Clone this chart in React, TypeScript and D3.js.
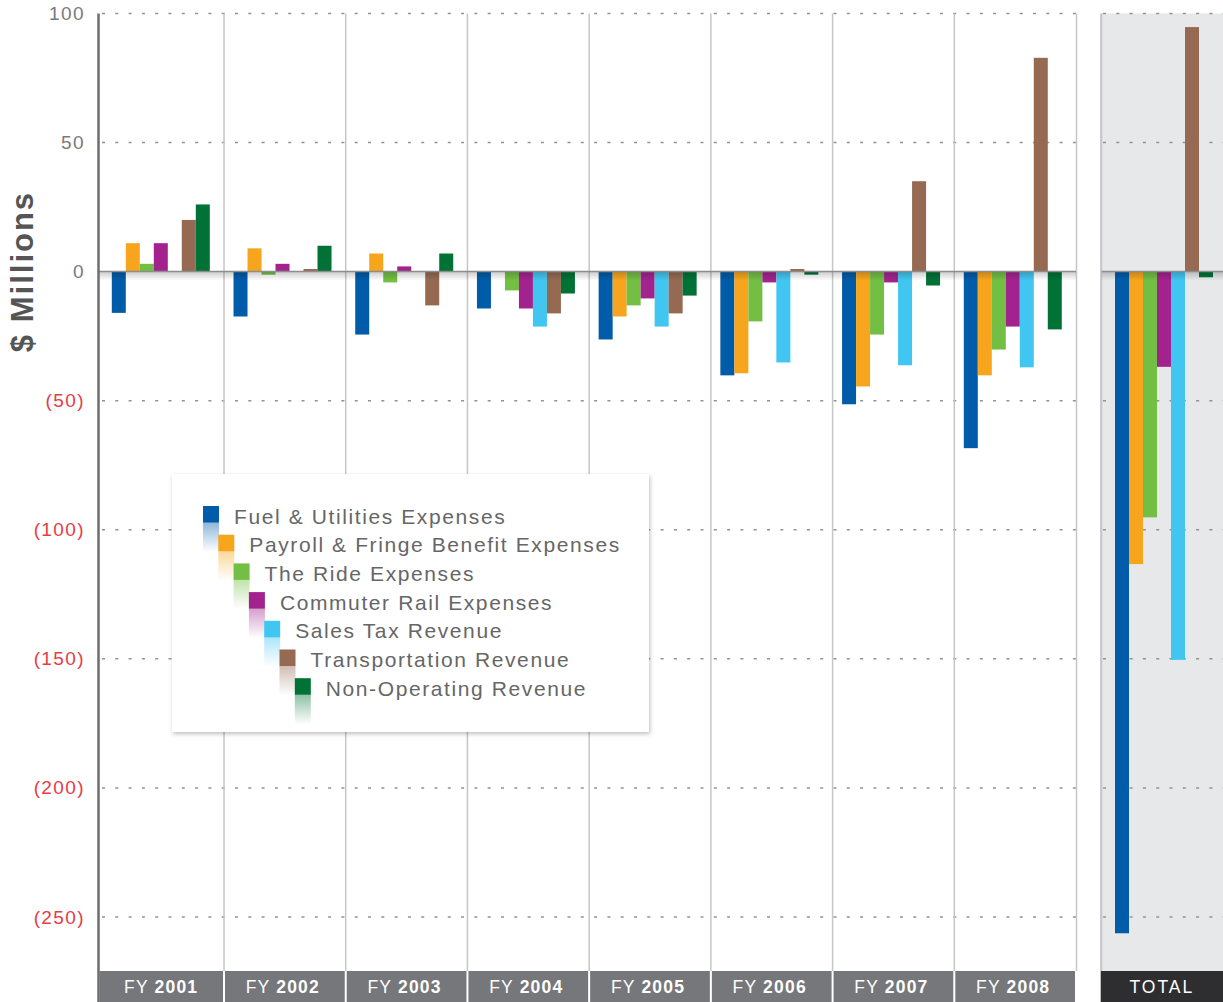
import React from "react";
import * as d3 from "d3";

const years = ["2001", "2002", "2003", "2004", "2005", "2006", "2007", "2008"];
const seriesNames = [
  "Fuel & Utilities Expenses",
  "Payroll & Fringe Benefit Expenses",
  "The Ride Expenses",
  "Commuter Rail Expenses",
  "Sales Tax Revenue",
  "Transportation Revenue",
  "Non-Operating Revenue",
];
const seriesColors = ["#005ca8", "#f7a51d", "#72bf44", "#a3238e", "#41c6f1", "#966a52", "#007236"];

const fuel = [-16, -17.4, -24.4, -14.3, -26.3, -40.2, -51.4, -68.4];
const payroll = [11, 9, 7, 0, -17.4, -39.4, -44.5, -40.2];
const ride = [3, -1.2, -4.2, -7.3, -13.1, -19.3, -24.4, -30.2];
const commuter = [11, 3, 2, -14.3, -10.4, -4.2, -4.2, -21.3];
const salesTax = [0, 0, 0, -21.3, -21.3, -35.2, -36.3, -37.1];
const transportation = [20, 1, -13.1, -16.2, -16.2, 1, 35, 82.8];
const nonOperating = [26, 10, 7, -8.5, -9.3, -1.2, -5.4, -22.4];
const totals = [-256.3, -113.3, -95.2, -36.9, -150.4, 94.7, -2.2];

const seriesValues = [fuel, payroll, ride, commuter, salesTax, transportation, nonOperating];
const yTicks = [100, 50, 0, -50, -100, -150, -200, -250];

const W = 1223;
const H = 1002;
const FONT = "'Liberation Sans', Arial, Helvetica, sans-serif";

export default function App() {
  const y = d3.scaleLinear().domain([100, -250]).range([13.4, 917]);
  const plotTop = y(100);
  const plotBottom = 971;
  const axisX = 98.5;
  const x = d3.scaleBand().domain(years).range([102.3, 1076]).paddingInner(0).paddingOuter(0);
  const bw = x.bandwidth();
  const inner = d3.scaleBand().domain(seriesNames).range([9.5, 107.5]);
  const totalX0 = 1100.7;
  const totalX1 = 1223;
  const innerT = d3.scaleBand().domain(seriesNames).range([14.3, 112.3]);
  const y0 = y(0);

  const barRect = (xPos: number, v: number, color: string, key: string) => {
    const top = Math.min(y(v), y0);
    const h = Math.abs(y(v) - y0);
    return <rect key={key} x={xPos} y={top} width={inner.bandwidth()} height={h} fill={color} />;
  };

  const fmt = (t: number) => (t < 0 ? `(${Math.abs(t)})` : `${t}`);

  return (
    <svg
      width={W}
      height={H}
      style={{ position: "absolute", left: 0, top: 0, background: "#fff" }}
      fontFamily={FONT}
    >
      <defs>
        <linearGradient id="zeroShadow" x1="0" y1="0" x2="0" y2="1">
          <stop offset="0" stopColor="#000" stopOpacity={0.2} />
          <stop offset="1" stopColor="#000" stopOpacity={0} />
        </linearGradient>
        {seriesColors.map((c, i) => (
          <linearGradient key={i} id={`refl${i}`} x1="0" y1="0" x2="0" y2="1">
            <stop offset="0" stopColor={c} stopOpacity={0.45} />
            <stop offset="1" stopColor={c} stopOpacity={0} />
          </linearGradient>
        ))}
        <filter id="legendShadow" x="-5%" y="-5%" width="110%" height="115%">
          <feDropShadow dx="1" dy="2" stdDeviation="2" floodColor="#000" floodOpacity="0.25" />
        </filter>
      </defs>

      {/* total panel background */}
      <rect x={totalX0} y={plotTop} width={totalX1 - totalX0} height={plotBottom - plotTop} fill="#e7e8ea" />
      <line x1={totalX0 + 0.5} x2={totalX0 + 0.5} y1={plotTop} y2={plotBottom} stroke="#c3c4c6" strokeWidth={2} />

      {/* grid dotted lines */}
      {yTicks
        .filter((t) => t !== 0)
        .map((t) => (
          <g key={t}>
            <line
              x1={102}
              x2={1076}
              y1={y(t)}
              y2={y(t)}
              stroke="#929292"
              strokeWidth={1.5}
              strokeDasharray="3 10.3"
            />
            <line
              x1={1103}
              x2={1223}
              y1={y(t)}
              y2={y(t)}
              stroke="#929292"
              strokeWidth={1.5}
              strokeDasharray="3 10.3"
            />
          </g>
        ))}

      {/* separators */}
      {years.map((yr, i) =>
        i === 0 ? null : (
          <line
            key={yr}
            x1={x(yr)!}
            x2={x(yr)!}
            y1={plotTop}
            y2={plotBottom}
            stroke="#c6c6c6"
            strokeWidth={1.5}
          />
        )
      )}
      <line x1={1076.5} x2={1076.5} y1={plotTop} y2={plotBottom} stroke="#c6c6c6" strokeWidth={1.5} />

      {/* bars */}
      {years.map((yr, i) => (
        <g key={yr}>
          {seriesNames.map((s, j) =>
            seriesValues[j][i] === 0 ? null : barRect(x(yr)! + inner(s)!, seriesValues[j][i], seriesColors[j], s)
          )}
        </g>
      ))}
      {seriesNames.map((s, j) => barRect(totalX0 + innerT(s)!, totals[j], seriesColors[j], "t" + s))}

      {/* zero line */}
      <rect x={axisX} y={y0} width={1076 - axisX} height={9} fill="url(#zeroShadow)" />
      <line x1={axisX} x2={1076} y1={y0} y2={y0} stroke="#8d8d8d" strokeWidth={1.5} />
      <rect x={totalX0 + 1} y={y0} width={totalX1 - totalX0} height={9} fill="url(#zeroShadow)" />
      <line x1={totalX0 + 1} x2={totalX1} y1={y0} y2={y0} stroke="#8d8d8d" strokeWidth={1.5} />

      {/* axis */}
      <line x1={axisX} x2={axisX} y1={plotTop} y2={H} stroke="#6d6d6d" strokeWidth={2.5} />
      {yTicks.map((t) => (
        <text
          key={t}
          x={85}
          y={y(t)}
          textAnchor="end"
          dominantBaseline="central"
          fontSize={19}
          letterSpacing={1.4}
          fill={t < 0 ? "#e63c46" : "#7a7a7a"}
        >
          {fmt(t)}
        </text>
      ))}
      <text
        transform={`translate(33, ${(188 + 355) / 2}) rotate(-90)`}
        textAnchor="middle"
        fontSize={31}
        fontWeight="bold"
        letterSpacing={2}
        fill="#555"
      >
        $ Millions
      </text>

      {/* category label bands */}
      {years.map((yr, i) => {
        const x0 = i === 0 ? axisX + 1 : x(yr)! + 1;
        const x1 = x(yr)! + bw - 1;
        return (
          <g key={yr}>
            <rect x={x0} y={plotBottom} width={x1 - x0} height={H - plotBottom} fill="#76777b" />
            <text
              x={x(yr)! + bw / 2 - 2}
              y={993.3}
              textAnchor="middle"
              fontSize={17.5}
              letterSpacing={1.2}
              fill="#fff"
            >
              <tspan>FY </tspan>
              <tspan fontWeight="bold">{yr}</tspan>
            </text>
          </g>
        );
      })}
      <rect x={totalX0} y={plotBottom} width={totalX1 - totalX0} height={H - plotBottom} fill="#2e2d2f" />
      <text
        x={(totalX0 + totalX1) / 2}
        y={993.3}
        textAnchor="middle"
        fontSize={17.5}
        letterSpacing={2}
        fill="#fff"
      >
        TOTAL
      </text>

      {/* legend */}
      <rect x={172} y={474} width={477} height={258} fill="#fff" filter="url(#legendShadow)" />
      {seriesNames.map((s, j) => {
        const sx = 203 + j * 15.3;
        const sy = 506 + j * 28.7;
        return (
          <g key={s}>
            <rect x={sx} y={sy + 16} width={16} height={30} fill={`url(#refl${j})`} />
          </g>
        );
      })}
      {seriesNames.map((s, j) => {
        const sx = 203 + j * 15.3;
        const sy = 506 + j * 28.7;
        return (
          <g key={s}>
            <rect x={sx} y={sy} width={16} height={16.5} fill={seriesColors[j]} />
            <text
              x={sx + 31}
              y={sy + 10}
              dominantBaseline="central"
              fontSize={21}
              letterSpacing={1.6}
              fill="#666"
            >
              {s}
            </text>
          </g>
        );
      })}
    </svg>
  );
}
